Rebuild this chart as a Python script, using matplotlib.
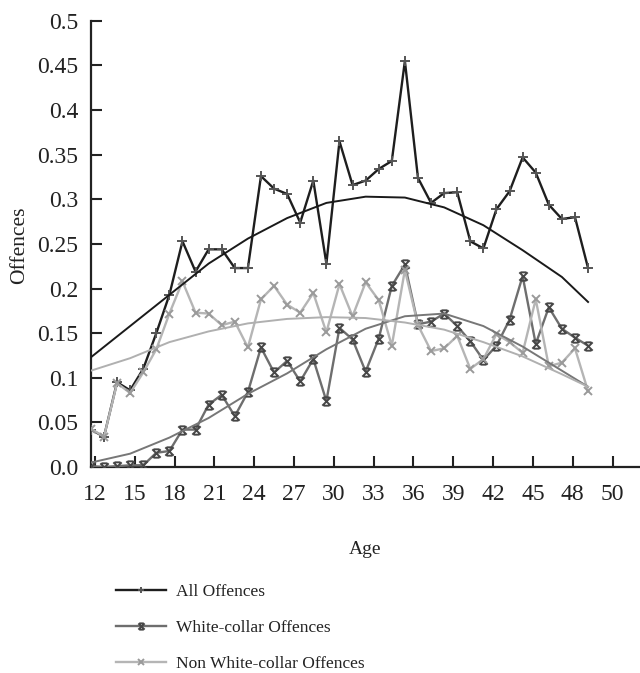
import numpy as np
import matplotlib
matplotlib.use("Agg")
import matplotlib.pyplot as plt
from matplotlib.path import Path

# ---- data -------------------------------------------------------------
ages = list(range(12, 51))

all_offences = [0.042, 0.034, 0.095, 0.086, 0.110, 0.150, 0.193, 0.253, 0.219, 0.244,
                0.244, 0.223, 0.223, 0.326, 0.312, 0.306, 0.274, 0.321, 0.228, 0.365,
                0.316, 0.321, 0.334, 0.343, 0.455, 0.324, 0.296, 0.307, 0.308, 0.253,
                0.245, 0.289, 0.309, 0.347, 0.330, 0.294, 0.278, 0.280, 0.223]

white_collar = [0.001, 0.000, 0.001, 0.002, 0.002, 0.016, 0.018, 0.042, 0.042, 0.070,
                0.081, 0.057, 0.084, 0.134, 0.106, 0.119, 0.096, 0.121, 0.074, 0.156,
                0.143, 0.107, 0.144, 0.203, 0.227, 0.160, 0.163, 0.172, 0.158, 0.141,
                0.120, 0.136, 0.165, 0.214, 0.138, 0.179, 0.155, 0.145, 0.136]

non_white_collar = [0.043, 0.034, 0.094, 0.083, 0.106, 0.132, 0.172, 0.208, 0.173, 0.172,
                    0.159, 0.163, 0.134, 0.188, 0.203, 0.182, 0.173, 0.195, 0.151, 0.205,
                    0.169, 0.207, 0.187, 0.136, 0.221, 0.159, 0.130, 0.133, 0.147, 0.110,
                    0.121, 0.149, 0.140, 0.128, 0.188, 0.113, 0.117, 0.133, 0.085]

# trend lines
trend_ages = [12, 15, 18, 21, 24, 27, 30, 33, 36, 39, 42, 45, 48, 50]
trend_all = [0.123, 0.158, 0.193, 0.228, 0.256, 0.279, 0.296, 0.303, 0.302, 0.291,
             0.271, 0.243, 0.213, 0.185]
trend_wc = [0.005, 0.015, 0.033, 0.055, 0.082, 0.105, 0.132, 0.155, 0.169, 0.172,
            0.158, 0.135, 0.108, 0.090]
trend_nwc = [0.108, 0.122, 0.140, 0.152, 0.161, 0.166, 0.168, 0.167, 0.162, 0.154,
             0.140, 0.124, 0.104, 0.090]

x_tick_labels = ["12", "15", "18", "21", "24", "27", "30", "33", "36", "39",
                 "42", "45", "48", "50"]
y_ticks = [0.0, 0.05, 0.1, 0.15, 0.2, 0.25, 0.3, 0.35, 0.4, 0.45, 0.5]
y_tick_labels = ["0.0", "0.05", "0.1", "0.15", "0.2", "0.25", "0.3", "0.35",
                 "0.4", "0.45", "0.5"]

series_labels = ["All Offences", "White-collar Offences", "Non White-collar Offences"]

# ---- style ------------------------------------------------------------
plt.rcParams['font.family'] = ['Liberation Serif', 'DejaVu Serif']

c_all, c_all_m = "#1e1e1e", "#555555"
c_wc, c_wc_m = "#6e6e6e", "#474747"
c_nwc, c_nwc_m = "#b5b5b5", "#9a9a9a"

# hourglass-like asterisk marker
verts = [(-1, -1), (1, 1), (-1, 1), (1, -1), (-0.7, 1), (0.7, 1), (-0.7, -1), (0.7, -1)]
codes = [Path.MOVETO, Path.LINETO, Path.MOVETO, Path.LINETO,
         Path.MOVETO, Path.LINETO, Path.MOVETO, Path.LINETO]
wc_marker = Path(verts, codes)

fig = plt.figure(figsize=(6.4, 6.73), dpi=100)
ax = fig.add_axes([0.142, 0.306, 0.858, 0.663])

ax.plot(ages, all_offences, color=c_all, lw=1.7, marker='+', ms=7, mec=c_all_m,
        mew=1.4, label=series_labels[0], zorder=3)
ax.plot(ages, white_collar, color=c_wc, lw=1.7, marker=wc_marker, ms=6, mec=c_wc_m,
        mew=1.4, label=series_labels[1], zorder=3)
ax.plot(ages, non_white_collar, color=c_nwc, lw=1.7, marker='x', ms=6, mec=c_nwc_m,
        mew=1.4, label=series_labels[2], zorder=3)

ax.plot(trend_ages, trend_all, color="#1a1a1a", lw=1.4, zorder=4)
ax.plot(trend_ages, trend_wc, color="#777777", lw=1.4, zorder=4)
ax.plot(trend_ages, trend_nwc, color="#b0b0b0", lw=1.4, zorder=4)

ax.set_xlim(12, 53.97)
ax.set_ylim(0, 0.5)

x_tick_pos = [12.31 + 3.043 * i for i in range(len(x_tick_labels))]
ax.set_xticks(x_tick_pos)
ax.set_xticklabels(x_tick_labels)
ax.set_yticks(y_ticks)
ax.set_yticklabels(y_tick_labels)

ax.tick_params(axis='both', direction='in', length=8, width=1.5, colors='#222222',
               labelsize=17, labelcolor='#222222')
ax.tick_params(axis='x', pad=12)
ax.tick_params(axis='y', pad=9)

for s in ['top', 'right']:
    ax.spines[s].set_visible(False)
for s in ['left', 'bottom']:
    ax.spines[s].set_linewidth(1.6)
    ax.spines[s].set_color('#222222')

ax.set_xlabel("Age", fontsize=14, labelpad=26, color='#222222')
ax.set_ylabel("Offences", fontsize=15.5, color='#222222')
ax.yaxis.set_label_coords(-0.112, 0.498)

handles, labels = ax.get_legend_handles_labels()
leg = fig.legend(handles, labels, loc='upper left', bbox_to_anchor=(0.17, 0.143),
                 frameon=False, fontsize=12.5, handlelength=2.9, handletextpad=0.55,
                 labelspacing=1.15, borderaxespad=0)
for h in leg.legend_handles:
    h.set_markersize(4.5)
    h.set_linewidth(1.7)
for t in leg.get_texts():
    t.set_color('#222222')

fig.savefig("out.png", dpi=100)
